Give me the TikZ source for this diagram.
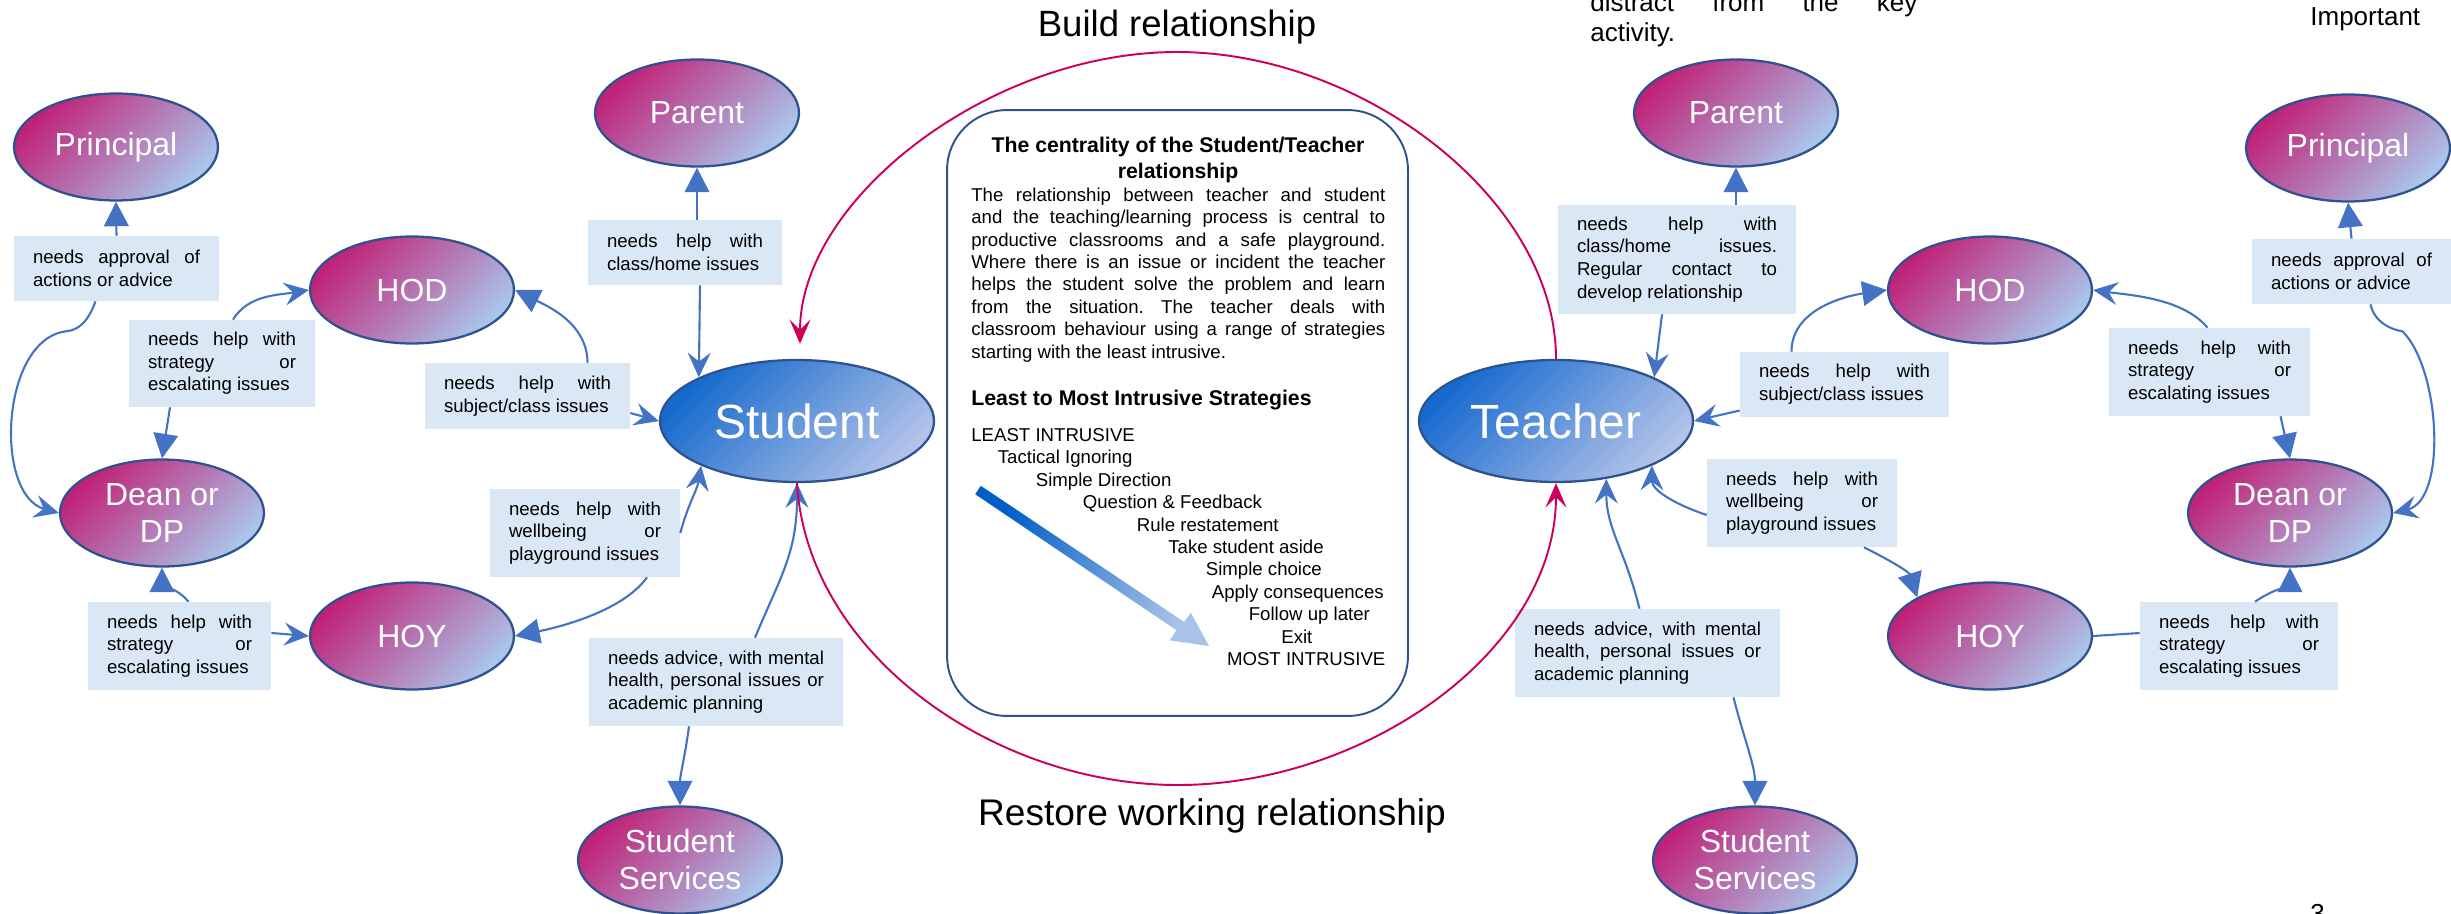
\documentclass[tikz,border=0pt]{standalone}
\usepackage{fontspec}
\setmainfont{Liberation Sans}
\usetikzlibrary{arrows.meta}
\usetikzlibrary{shapes.geometric}
\usetikzlibrary{calc}
\definecolor{rimblue}{RGB}{47,82,143}
\definecolor{linkblue}{RGB}{68,114,196}
\definecolor{rolepink}{RGB}{192,34,120}
\definecolor{rolesky}{RGB}{170,198,234}
\definecolor{partyblue}{RGB}{22,106,206}
\definecolor{partysky}{RGB}{178,194,232}
\definecolor{needfill}{RGB}{218,232,246}
\definecolor{bondred}{RGB}{204,0,92}
\definecolor{rungdark}{RGB}{0,94,198}
\definecolor{runglight}{RGB}{168,194,232}
\hyphenpenalty=10000
\exhyphenpenalty=10000
\tolerance=10000
\hbadness=10000
\frenchspacing
\tikzset{role/.style = {ellipse, draw = rimblue, line width = 1.3pt,
                        top color = rolepink, bottom color = rolesky, shading angle = 45,
                        minimum width = 4.08cm, minimum height = 2.14cm, inner sep = 0pt,
                        text = white, align = center, font = \fontsize{18.2}{21}\selectfont},
         party/.style = {role, top color = partyblue, bottom color = partysky, shading angle = 45,
                         minimum width = 5.48cm, minimum height = 2.44cm,
                         font = \fontsize{27.3}{31}\selectfont},
         need/.style = {fill = needfill, inner xsep = 0.38cm, inner ysep = 0pt, align = justify,
                        font = \fontsize{10.6}{12.9}\selectfont},
         helps/.style = {draw = linkblue, line width = 1.2pt, -{Triangle[length = 14pt, width = 14pt]}},
         asks/.style = {draw = linkblue, line width = 1.2pt, -{Stealth[length = 14pt, width = 13pt, inset = 5pt]}},
         link/.style = {draw = linkblue, line width = 1.2pt},
         bond/.style = {draw = bondred, line width = 1.1pt, -{Stealth[length = 14pt, width = 12pt, inset = 6pt]}},
         panel/.style = {draw = rimblue, line width = 1.1pt, rounded corners = 1.2cm,
                         minimum width = 9.22cm, minimum height = 12.12cm},
         words/.style = {inner sep = 0pt},
         rung/.style = {words, anchor = base west, font = \fontsize{10.6}{12.75}\selectfont}}

\begin{document}
\begin{tikzpicture}[x = 0.02cm, y = -0.02cm]
      \useasboundingbox (0, 0) rectangle (2451, 913);
      \clip (0, 0) rectangle (2451, 913);

      \node [panel] (centre) at (1177.5, 413) {};
      \node [words, anchor = north, align = center, font = \bfseries\fontsize{12.1}{14.8}\selectfont] (title) at (1178, 136.5)
            {The centrality of the Student/Teacher\\relationship};
      \node [words, anchor = north west, text width = 8.28cm, align = justify, font = \fontsize{10.6}{12.75}\selectfont] (intro) at (971, 187.5)
            {The relationship between teacher and student\linebreak and the teaching/learning process is central to\linebreak
             productive classrooms and a safe playground.\linebreak Where there is an issue or incident the teacher\linebreak
             helps the student solve the problem and learn\linebreak from the situation. The teacher deals with\linebreak
             classroom behaviour using a range of strategies\linebreak starting with the least intrusive.};
      \node [rung, font = \bfseries\fontsize{12.1}{14.8}\selectfont] (strategies) at (971, 405) {Least to Most Intrusive Strategies};
      \node [rung] (leastint) at (971, 441.5) {LEAST INTRUSIVE};
      \node [rung] (ignoring) at (997.5, 463.9) {Tactical Ignoring};
      \node [rung] (direction) at (1035.5, 486.3) {Simple Direction};
      \node [rung] (question) at (1082.5, 508.7) {Question \& Feedback};
      \node [rung] (restate) at (1136.5, 531.1) {Rule restatement};
      \node [rung] (aside) at (1168, 553.5) {Take student aside};
      \node [rung] (choice) at (1205.5, 575.9) {Simple choice};
      \node [rung] (conseq) at (1211.5, 598.3) {Apply consequences};
      \node [rung] (follow) at (1248.5, 620.7) {Follow up later};
      \node [rung] (exit) at (1281, 643.1) {Exit};
      \node [rung] (mostint) at (1226.7, 665.5) {MOST INTRUSIVE};
      \shade [top color = rungdark, bottom color = runglight, shading angle = 56]
            (975.2, 494.2) -- (1176.4, 630.2) -- (1169.8, 640.3) -- (1209, 646)
            -- (1190.8, 612.7) -- (1184.2, 622.0) -- (980.8, 485.8) -- cycle;

      \node [words, anchor = base, font = \fontsize{20.8}{24}\selectfont] (build) at (1177, 36) {Build relationship};
      \node [words, anchor = base, font = \fontsize{21.1}{24}\selectfont] (restore) at (1212, 825) {Restore working relationship};
      \node [words, anchor = north west, text width = 6.54cm, align = justify, font = \fontsize{14.8}{17}\selectfont] (distract) at (1590, -8)
            {distract from the key\linebreak activity.};
      \node [words, anchor = base west, font = \fontsize{14.8}{17}\selectfont] (important) at (2310, 25) {Important};
      \node [words, anchor = base west, font = \fontsize{14.8}{17}\selectfont] (page) at (2310, 922) {3};

      \node [role] (prinL) at (116, 147) {Principal};
      \node [role] (parL) at (697, 113) {Parent};
      \node [role] (hodL) at (412, 290) {HOD};
      \node [party] (stud) at (797, 421) {Student};
      \node [role] (deanL) at (162, 513) {Dean or\\DP};
      \node [role] (hoyL) at (412, 636) {HOY};
      \node [role] (ssL) at (680, 860) {Student\\Services};

      \node [role] (parR) at (1736, 113) {Parent};
      \node [role] (prinR) at (2348, 148) {Principal};
      \node [role] (hodR) at (1990, 290) {HOD};
      \node [party] (teach) at (1556, 421) {Teacher};
      \node [role] (deanR) at (2290, 513) {Dean or\\DP};
      \node [role] (hoyR) at (1990, 636) {HOY};
      \node [role] (ssR) at (1755, 860) {Student\\Services};

      \node [need, text width = 3.34cm, minimum height = 1.30cm] (apprL) at (116.5, 268.5) {needs approval of\linebreak actions or advice};
      \node [need, text width = 2.96cm, minimum height = 1.74cm] (stratUL) at (222, 363.5) {needs help with\linebreak strategy or\linebreak escalating issues};
      \node [need, text width = 3.12cm, minimum height = 1.30cm] (homeL) at (685, 252.5) {needs help with\linebreak class/home issues};
      \node [need, text width = 3.34cm, minimum height = 1.32cm] (subjL) at (527.5, 396) {needs help with\linebreak subject/class issues};
      \node [need, text width = 3.04cm, minimum height = 1.76cm] (wellL) at (585, 533) {needs help with\linebreak wellbeing or\linebreak playground issues};
      \node [need, text width = 2.90cm, minimum height = 1.76cm] (stratLL) at (179.5, 646) {needs help with\linebreak strategy or\linebreak escalating issues};
      \node [need, text width = 4.32cm, minimum height = 1.76cm] (advL) at (716, 682) {needs advice, with mental\linebreak health, personal issues or\linebreak academic planning};

      \node [need, text width = 4.00cm, minimum height = 2.18cm] (homeR) at (1677, 259.5) {needs help with\linebreak class/home issues.\linebreak Regular contact to\linebreak develop relationship};
      \node [need, text width = 3.42cm, minimum height = 1.30cm] (subjR) at (1844.5, 384.5) {needs help with\linebreak subject/class issues};
      \node [need, text width = 3.26cm, minimum height = 1.76cm] (stratUR) at (2209.5, 372) {needs help with\linebreak strategy or\linebreak escalating issues};
      \node [need, text width = 3.22cm, minimum height = 1.30cm] (apprR) at (2351.5, 271.5) {needs approval of\linebreak actions or advice};
      \node [need, text width = 3.04cm, minimum height = 1.76cm] (wellR) at (1802, 503) {needs help with\linebreak wellbeing or\linebreak playground issues};
      \node [need, text width = 3.20cm, minimum height = 1.76cm] (stratLR) at (2239, 646) {needs help with\linebreak strategy or\linebreak escalating issues};
      \node [need, text width = 4.54cm, minimum height = 1.76cm] (advR) at (1647.5, 653) {needs advice, with mental\linebreak health, personal issues or\linebreak academic planning};

      \draw [helps] (apprL.north) -- (prinL.south);
      \draw [asks] ($(apprL.south)+(-21, 0)$) .. controls +(-8, 22) and +(12, -1) .. ++(-30, 30)
            .. controls +(-65, 9) and +(-65, -18) .. (deanL.west);
      \draw [asks] ($(stratUL.north)+(11, 0)$) .. controls +(15, -25) and +(-30, 5) .. (hodL.west);
      \draw [helps] ($(stratUL.south)+(-52, 0)$) -- (deanL.north);
      \draw [helps] (homeL.north -| parL.south) -- (parL.south);
      \draw [asks] ($(homeL.south)+(15, 0)$) -- (stud.156);
      \draw [helps] ($(subjL.north)+(60, 0)$) .. controls +(0, -40) and +(30, 15) .. (hodL.east);
      \draw [asks] ($(subjL.east)+(0, 17)$) -- (stud.west);
      \draw [asks] (wellL.east) .. controls +(8, -30) and +(-4, 25) .. (stud.205);
      \draw [helps] ($(wellL.south)+(62, 0)$) .. controls +(-25, 35) and +(40, -8) .. (hoyL.east);
      \draw [helps] ($(stratLL.north)+(9, 0)$) .. controls +(-10, -12) and +(0, 15) .. (deanL.south);
      \draw [asks] ($(stratLL.east)+(0, -13)$) -- (hoyL.west);
      \draw [asks] ($(advL.north)+(39, 0)$) .. controls +(25, -60) and +(0, 70) .. (stud.south);
      \draw [helps] ($(advL.south)+(-27, 0)$) .. controls +(-4, 30) and +(0, -30) .. (ssL.north);

      \draw [helps] (homeR.north -| parR.south) -- (parR.south);
      \draw [asks] ($(homeR.south)+(-15, 0)$) -- (teach.24);
      \draw [helps] ($(subjR.north)+(-53, 0)$) .. controls +(0, -45) and +(-35, 5) .. (hodR.west);
      \draw [asks] ($(subjR.west)+(0, 26)$) -- (teach.east);
      \draw [asks] ($(stratUR.north)+(-2, 0)$) .. controls +(-25, -30) and +(35, 5) .. (hodR.east);
      \draw [helps] ($(stratUR.south)+(71, 0)$) -- (deanR.north);
      \draw [helps] (apprR.north) -- (prinR.south);
      \draw [asks] ($(apprR.south)+(19, 0)$) .. controls +(4, 18) and +(-12, -2) .. ++(32, 27)
            .. controls +(38, 38) and +(54, -13) .. (deanR.east);
      \draw [asks] ($(wellR.west)+(0, 12)$) .. controls +(-30, -10) and +(0, 25) .. (teach.-25);
      \draw [helps] ($(wellR.south)+(62, 0)$) .. controls +(30, 15) and +(-8, -25) .. (hoyR.152);
      \draw [link] (hoyR.east) -- ($(stratLR.west)+(0, -13)$);
      \draw [helps] ($(stratLR.north)+(16, 0)$) .. controls +(15, -10) and +(0, 15) .. (deanR.south);
      \draw [asks] ($(advR.north)+(-8, 0)$) .. controls +(-15, -60) and +(0, 50) .. (teach.-49);
      \draw [helps] ($(advR.south)+(86, 0)$) .. controls +(10, 40) and +(0, -40) .. (ssR.north);

      \coordinate (buildtop) at (1177, 52);
      \coordinate (restorebottom) at (1178, 785);
      \draw [bond] (teach.north) .. controls +(0, -160) and +(185, 0) .. (buildtop)
            .. controls +(-187, 0) and +(0, -145) .. ($(stud.north)+(3, -15)$);
      \draw [bond] (stud.south) .. controls +(10, 170) and +(-185, 0) .. (restorebottom)
            .. controls +(185, 0) and +(0, 170) .. (teach.south);
    \end{tikzpicture}
\end{document}
